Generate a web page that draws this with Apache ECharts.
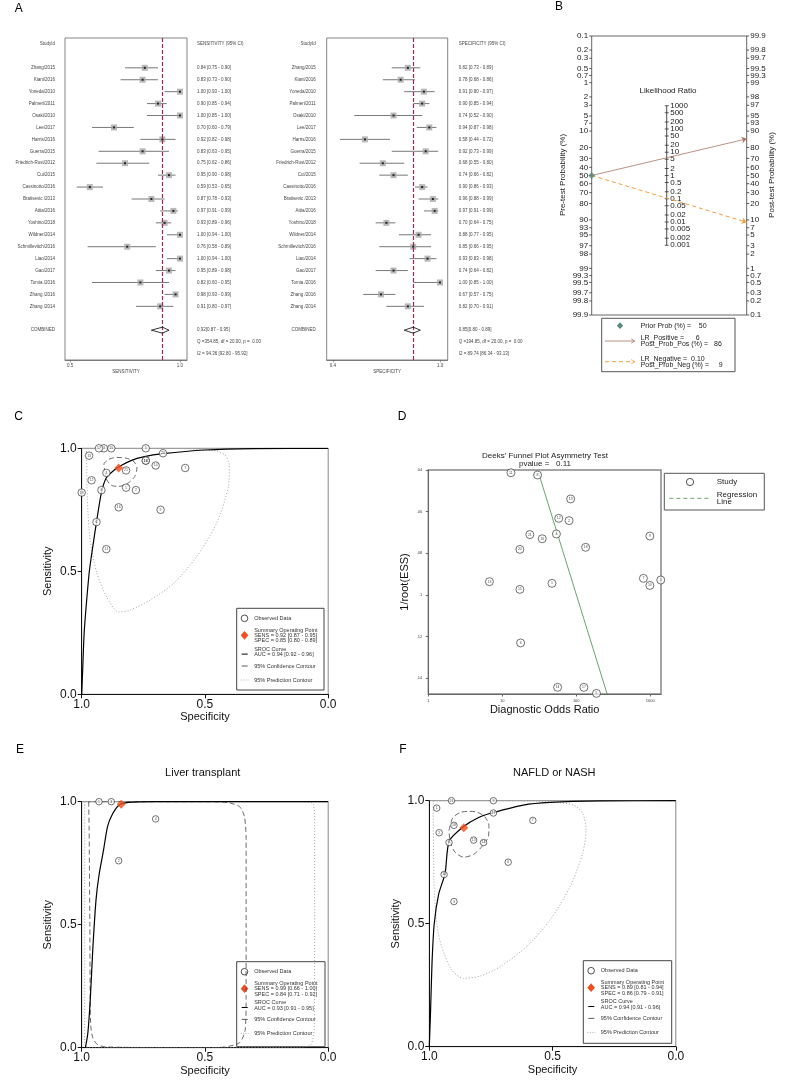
<!DOCTYPE html>
<html>
<head>
<meta charset="utf-8">
<script src="https://cdn.jsdelivr.net/npm/echarts@6/dist/echarts.min.js"></script>
<style>
html, body { margin: 0; padding: 0; background: #fff; }
#chart { width: 800px; height: 1091px; }
</style>
</head>
<body>
<div id="chart"></div>
<script>
var FONT = 'Liberation Sans, Arial, sans-serif';

// ---------- A: forest plots ----------
var studyNames = ['Zhang/2015', 'Kiani/2016', 'Yoneda/2010', 'Palmeri/2011', 'Osaki/2010', 'Lee/2017', 'Harris/2016',
  'Guerra/2015', 'Friedrich-Rust/2012', 'Cui/2015', 'Cassinotto/2016', 'Bratisevic /2013', 'Attia/2016', 'Yoshino/2018',
  'Wildner/2014', 'Schmillevitch/2016', 'Liao/2014', 'Gao/2017', 'Tomia /2016', 'Zhang /2016', 'Zhang /2014'];
var sensEst  = [0.84, 0.83, 1.00, 0.90, 1.00, 0.70, 0.92, 0.83, 0.75, 0.95, 0.59, 0.87, 0.97, 0.93, 1.00, 0.76, 1.00, 0.95, 0.82, 0.98, 0.91];
var sensLow  = [0.75, 0.73, 0.93, 0.85, 0.85, 0.60, 0.82, 0.63, 0.62, 0.90, 0.53, 0.78, 0.91, 0.89, 0.94, 0.58, 0.94, 0.89, 0.60, 0.93, 0.80];
var sensHigh = [0.90, 0.90, 1.00, 0.94, 1.00, 0.79, 0.98, 0.95, 0.86, 0.98, 0.65, 0.93, 0.99, 0.96, 1.00, 0.89, 1.00, 0.98, 0.95, 0.99, 0.97];
var specEst  = [0.82, 0.78, 0.91, 0.90, 0.74, 0.94, 0.58, 0.92, 0.68, 0.74, 0.90, 0.96, 0.97, 0.70, 0.88, 0.85, 0.93, 0.74, 1.00, 0.67, 0.82];
var specLow  = [0.73, 0.68, 0.80, 0.85, 0.52, 0.87, 0.44, 0.73, 0.55, 0.66, 0.86, 0.88, 0.91, 0.64, 0.77, 0.66, 0.83, 0.64, 0.85, 0.57, 0.70];
var specHigh = [0.89, 0.86, 0.97, 0.94, 0.90, 0.98, 0.72, 0.99, 0.80, 0.82, 0.93, 0.99, 0.99, 0.75, 0.95, 0.95, 0.98, 0.82, 1.00, 0.75, 0.91];
var sensPooled = [0.92, 0.87, 0.95];
var specPooled = [0.85, 0.80, 0.89];
var sensHet = ['Q =354.85, df = 20.00, p =  0.00', 'I2 = 94.36 [92.80 - 95.92]'];
var specHet = ['Q =194.85, df = 20.00, p =  0.00', 'I2 = 89.74 [86.34 - 93.13]'];
var sensTicks = [0.5, 1.0];
var specTicks = [0.4, 1.0];

// ---------- B: Fagan nomogram ----------
var priorProb = 50;
var lrPositive = 6, postProbPos = 86;
var lrNegative = 0.10, postProbNeg = 9;
var preTicks = [0.1, 0.2, 0.3, 0.5, 0.7, 1, 2, 3, 5, 7, 10, 20, 30, 40, 50, 60, 70, 80, 90, 93, 95, 97, 98, 99, 99.3, 99.5, 99.7, 99.8, 99.9];
var postTicks = [99.9, 99.8, 99.7, 99.5, 99.3, 99, 98, 97, 95, 93, 90, 80, 70, 60, 50, 40, 30, 20, 10, 7, 5, 3, 2, 1, 0.7, 0.5, 0.3, 0.2, 0.1];
var lrTicks = [1000, 500, 200, 100, 50, 20, 10, 5, 2, 1, 0.5, 0.2, 0.1, 0.05, 0.02, 0.01, 0.005, 0.002, 0.001];

// ---------- C: SROC all studies ----------
var allLabels = [1, 2, 3, 4, 5, 6, 7, 8, 9, 10, 11, 12, 13, 14, 15, 16, 17, 18, 19, 20, 21];
var allSummary = [0.85, 0.92];
var allCurve = [[1.0, 0], [0.996, 0.1], [0.99, 0.25], [0.98, 0.38], [0.969, 0.5], [0.955, 0.6], [0.94, 0.7], [0.92, 0.82],
  [0.9, 0.88], [0.87, 0.91], [0.84, 0.93], [0.8, 0.95], [0.75, 0.965], [0.67, 0.978], [0.5, 0.993], [0.3, 0.999], [0, 1]];
var allConf = [[0.905, 0.9], [0.91, 0.935], [0.89, 0.955], [0.858, 0.963], [0.82, 0.96], [0.79, 0.948], [0.776, 0.92],
  [0.785, 0.885], [0.81, 0.86], [0.85, 0.845], [0.88, 0.85], [0.9, 0.875], [0.905, 0.9]];
var allPred = [[0.98, 1.0], [0.98, 0.993], [0.977, 0.79], [0.966, 0.626], [0.939, 0.495], [0.899, 0.396], [0.851, 0.335],
  [0.804, 0.342], [0.723, 0.383], [0.628, 0.45], [0.534, 0.559], [0.453, 0.695], [0.405, 0.844], [0.401, 0.932],
  [0.419, 0.973], [0.466, 0.99], [0.601, 0.999], [0.804, 1.0], [0.98, 1.0]];
var allStats = ['0.92 [0.87 - 0.95]', '0.85 [0.80 - 0.89]', '0.94 [0.92 - 0.96]'];

// ---------- D: Deeks funnel ----------
var deeksDOR = [13.1, 30, 84, 58, 80, 54, 23.6, 34.7, 134, 17.3, 990, 6.7, 47, 17.3, 810, 990, 1390, 17.7, 56, 127, 188];
var deeksESS = [0.0413, 0.0424, 0.0539, 0.0632, 0.0643, 0.0707, 0.0710, 0.0730, 0.0771, 0.0781, 0.0717, 0.0936, 0.0944,
  0.0973, 0.0920, 0.0954, 0.0928, 0.1230, 0.1443, 0.1443, 0.1472];
var deeksLabels = [11, 8, 19, 12, 2, 4, 21, 16, 18, 20, 9, 13, 1, 15, 7, 10, 3, 6, 14, 17, 5];
var deeksFitDOR = [31, 262];
var deeksFitESS = [0.0415, 0.1475];
var deeksTicksY = [0.04, 0.06, 0.08, 0.1, 0.12, 0.14];
var deeksPvalue = '0.11';

// ---------- E: liver transplant ----------
var liverIdx = [16, 14, 13, 15];
var liverLabels = [1, 3, 4, 2];
var liverSummary = [0.84, 0.99];
var liverCurve = [[0.985, 0], [0.975, 0.06], [0.965, 0.2], [0.955, 0.4], [0.942, 0.6], [0.93, 0.7], [0.912, 0.8],
  [0.895, 0.9], [0.875, 0.95], [0.85, 0.985], [0.81, 0.997], [0.7, 1], [0, 1]];
var liverConf = [[0.972, 1.0], [0.97, 0.9], [0.967, 0.5], [0.964, 0.1], [0.955, 0.04], [0.935, 0.012], [0.9, 0.003],
  [0.5, 0.0], [0.42, 0.003], [0.36, 0.02], [0.337, 0.07], [0.333, 0.2], [0.333, 0.5], [0.333, 0.85], [0.34, 0.94],
  [0.36, 0.98], [0.41, 0.997], [0.5, 1.0], [0.972, 1.0]];
var liverPred = [[0.988, 1.0], [0.988, 0.5], [0.988, 0.02], [0.98, 0.002], [0.5, 0.0], [0.12, 0.002], [0.07, 0.012],
  [0.056, 0.1], [0.055, 0.5], [0.055, 0.9], [0.06, 0.99], [0.1, 1.0], [0.5, 1.0], [0.988, 1.0]];
var liverStats = ['0.99 [0.66 - 1.00]', '0.84 [0.71 - 0.92]', '0.93 [0.91 - 0.95]'];

// ---------- F: NAFLD or NASH ----------
var naflIdx = [12, 2, 4, 9, 6, 11, 3, 7, 0, 1, 8, 5, 10];
var naflLabels = [1, 21, 9, 17, 7, 2, 18, 8, 13, 14, 6, 16, 3];
var naflSummary = [0.86, 0.89];
var naflCurve = [[1.0, 0], [0.995, 0.14], [0.989, 0.34], [0.98, 0.5], [0.962, 0.62], [0.936, 0.705], [0.919, 0.836],
  [0.862, 0.894], [0.8, 0.932], [0.743, 0.951], [0.619, 0.982], [0.51, 0.993], [0.3, 0.999], [0, 1]];
var naflConf = [[0.92, 0.88], [0.905, 0.93], [0.875, 0.952], [0.84, 0.957], [0.805, 0.953], [0.775, 0.935], [0.758, 0.9],
  [0.76, 0.855], [0.785, 0.815], [0.82, 0.782], [0.86, 0.77], [0.895, 0.79], [0.915, 0.83], [0.92, 0.88]];
var naflPred = [[0.984, 1.0], [0.984, 0.996], [0.981, 0.678], [0.97, 0.501], [0.95, 0.407], [0.909, 0.312], [0.862, 0.278],
  [0.794, 0.287], [0.713, 0.325], [0.605, 0.407], [0.51, 0.515], [0.429, 0.65], [0.378, 0.786], [0.364, 0.881],
  [0.378, 0.949], [0.415, 0.982], [0.51, 0.996], [0.713, 1.0], [0.984, 1.0]];
var naflStats = ['0.89 [0.81 - 0.94]', '0.86 [0.79 - 0.91]', '0.94 [0.91 - 0.96]'];

// ================= helpers =================
function logit(p) { return Math.log(p / (1 - p)); }
function ci(e, l, h) { return e.toFixed(2) + ' [' + l.toFixed(2) + ' - ' + h.toFixed(2) + ']'; }
function txt(x, y, s, size, align, color, extra) {
  var o = { type: 'text', x: x, y: y, silent: true,
    style: { text: s, fontSize: size, fontFamily: FONT, fill: color || '#222',
      align: align || 'left', verticalAlign: 'middle', textAlign: align || 'left', textVerticalAlign: 'middle' } };
  if (extra) { for (var k in extra) o[k] = extra[k]; }
  return o;
}

var grids = [], xAxes = [], yAxes = [], series = [], graphics = [];

// ---------- forest ----------
function ciRender(params, api) {
  var a = api.coord([api.value(0), api.value(2)]);
  var b = api.coord([api.value(1), api.value(2)]);
  return { type: 'line', shape: { x1: a[0], y1: a[1], x2: b[0], y2: b[1] }, style: { stroke: '#555', lineWidth: 0.8 } };
}
function diamondRender(params, api) {
  var l = api.coord([api.value(0), api.value(3)]);
  var c = api.coord([api.value(1), api.value(3)]);
  var r = api.coord([api.value(2), api.value(3)]);
  return { type: 'polygon', shape: { points: [[l[0], l[1]], [c[0], c[1] - 3], [r[0], r[1]], [c[0], c[1] + 3]] },
    style: { fill: 'none', stroke: '#000', lineWidth: 0.8 } };
}
function addForest(left, width, xmin, xmax, ticks, name, est, lo, hi, pooled, het, labelMargin) {
  var gi = grids.length;
  grids.push({ left: left, top: 38, width: width, height: 322, show: true, borderColor: '#666', borderWidth: 0.8 });
  var xi = xAxes.length;
  xAxes.push({ gridIndex: gi, type: 'value', min: xmin, max: xmax,
    axisLine: { show: true, lineStyle: { color: '#666', width: 0.8 } },
    axisTick: { show: true, length: 2.5, customValues: ticks, lineStyle: { color: '#666', width: 0.6 } },
    axisLabel: { customValues: ticks, fontSize: 4.5, color: '#444', margin: 3, formatter: function (v) { return v.toFixed(1); } },
    splitLine: { show: false },
    name: name, nameLocation: 'middle', nameGap: 9, nameTextStyle: { fontSize: 4.5, color: '#444' } });
  var leftLabels = ['StudyId', ''].concat(studyNames).concat(['', 'COMBINED', '', '']);
  var rightLabels = [name + ' (95% CI)', ''].concat(est.map(function (v, i) { return ci(v, lo[i], hi[i]); }))
    .concat(['', pooled[0].toFixed(2) + '[' + pooled[1].toFixed(2) + ' - ' + pooled[2].toFixed(2) + ']', het[0], het[1]]);
  var pooledRow = est.length + 3;
  var yi = yAxes.length;
  [[leftLabels, 'left'], [rightLabels, 'right']].forEach(function (d) {
    yAxes.push({ gridIndex: gi, type: 'category', inverse: true, data: d[0], position: d[1],
      axisLine: { show: false }, axisTick: { show: false }, splitLine: { show: false },
      axisLabel: { fontSize: 4.5, color: '#444', margin: labelMargin, interval: 0 } });
  });
  var pts = est.map(function (v, i) { return [v, i + 2]; });
  series.push({ type: 'custom', xAxisIndex: xi, yAxisIndex: yi, silent: true, z: 2, renderItem: ciRender,
    encode: { x: [0, 1], y: 2 }, data: lo.map(function (l, i) { return [l, hi[i], i + 2]; }) });
  series.push({ type: 'scatter', xAxisIndex: xi, yAxisIndex: yi, silent: true, z: 3, symbol: 'rect', symbolSize: 6,
    itemStyle: { color: '#a8a8a8' }, data: pts,
    markLine: { silent: true, symbol: 'none', label: { show: false },
      lineStyle: { color: '#a0284f', type: [4, 2], width: 1.2 }, data: [{ xAxis: pooled[0] }] } });
  series.push({ type: 'scatter', xAxisIndex: xi, yAxisIndex: yi, silent: true, z: 4, symbol: 'rect', symbolSize: 2,
    itemStyle: { color: '#000' }, data: pts });
  series.push({ type: 'custom', xAxisIndex: xi, yAxisIndex: yi, silent: true, z: 5, renderItem: diamondRender,
    encode: { x: [0, 1, 2], y: 3 }, data: [[pooled[1], pooled[0], pooled[2], pooledRow]] });
}
addForest(65, 122, 0.477, 1.032, sensTicks, 'SENSITIVITY', sensEst, sensLow, sensHigh, sensPooled, sensHet, 10);
addForest(326.7, 121, 0.366, 1.043, specTicks, 'SPECIFICITY', specEst, specLow, specHigh, specPooled, specHet, 11);

// ---------- Fagan ----------
(function () {
  var gi = grids.length;
  grids.push({ left: 591.7, top: 36, width: 155, height: 279, show: true, borderColor: '#666', borderWidth: 1 });
  var xi = xAxes.length, yi = yAxes.length;
  var lim = -logit(0.001);
  xAxes.push({ gridIndex: gi, type: 'value', min: 0, max: 1, show: false });
  yAxes.push({ gridIndex: gi, type: 'value', min: -lim, max: lim, inverse: true, show: false });
  var lrX = 0.484;
  function ticks(vals, toY, xPos, side) {
    return { type: 'custom', xAxisIndex: xi, yAxisIndex: yi, silent: true, clip: false, z: 5,
      encode: { x: 0, y: 1 },
      data: vals.map(function (v) { return [xPos, toY(v)]; }),
      renderItem: function (params, api) {
        var p = api.coord([api.value(0), api.value(1)]);
        var s = String(vals[params.dataIndex]);
        var x1, x2, tx, al;
        if (side === 'left') { x1 = p[0] - 2.5; x2 = p[0]; tx = p[0] - 3.5; al = 'right'; }
        else if (side === 'right') { x1 = p[0]; x2 = p[0] + 2.5; tx = p[0] + 3.5; al = 'left'; }
        else { x1 = p[0] - 2; x2 = p[0] + 2; tx = p[0] + 3.5; al = 'left'; }
        return { type: 'group', children: [
          { type: 'line', shape: { x1: x1, y1: p[1], x2: x2, y2: p[1] }, style: { stroke: '#333', lineWidth: 0.8 } },
          { type: 'text', x: tx, y: p[1], style: { text: s, fill: '#222', fontSize: 8, fontFamily: FONT,
            align: al, verticalAlign: 'middle', textAlign: al, textVerticalAlign: 'middle' } }
        ] };
      } };
  }
  series.push(ticks(preTicks, function (v) { return logit(v / 100); }, 0, 'left'));
  series.push(ticks(postTicks, function (v) { return -logit(v / 100); }, 1, 'right'));
  series.push(ticks(lrTicks, function (v) { return -Math.log(v) / 2; }, lrX, 'mid'));
  series.push({ type: 'line', xAxisIndex: xi, yAxisIndex: yi, silent: true, showSymbol: false, z: 4,
    lineStyle: { color: '#333', width: 0.9 },
    data: [[lrX, -Math.log(lrTicks[0]) / 2], [lrX, -Math.log(lrTicks[lrTicks.length - 1]) / 2]] });
  series.push({ type: 'lines', coordinateSystem: 'cartesian2d', xAxisIndex: xi, yAxisIndex: yi, silent: true, z: 6,
    symbol: ['none', 'arrow'], symbolSize: 5,
    lineStyle: { color: '#a87565', width: 0.8, opacity: 1 },
    data: [{ coords: [[0, logit(priorProb / 100)], [1, -logit(postProbPos / 100)]] }] });
  series.push({ type: 'lines', coordinateSystem: 'cartesian2d', xAxisIndex: xi, yAxisIndex: yi, silent: true, z: 6,
    symbol: ['none', 'arrow'], symbolSize: 5,
    lineStyle: { color: '#f0a040', width: 1, type: [4, 3], opacity: 1 },
    data: [{ coords: [[0, logit(priorProb / 100)], [1, -logit(postProbNeg / 100)]] }] });
  series.push({ type: 'scatter', xAxisIndex: xi, yAxisIndex: yi, silent: true, z: 7, clip: false,
    symbol: 'diamond', symbolSize: 7, itemStyle: { color: '#5a8a7a' }, data: [[0, logit(priorProb / 100)]] });

  graphics.push(txt(668, 90.7, 'Likelihood Ratio', 8, 'center'));
  graphics.push(txt(562.7, 175, 'Pre-test Probability (%)', 8, 'center', '#222', { rotation: Math.PI / 2 }));
  graphics.push(txt(772, 175, 'Post-test Probability (%)', 8, 'center', '#222', { rotation: Math.PI / 2 }));
  graphics.push({ type: 'group', x: 601.7, y: 318.3, silent: true, children: [
    { type: 'rect', shape: { x: 0, y: 0, width: 133.3, height: 53.4 }, style: { fill: '#fff', stroke: '#555', lineWidth: 1 } },
    { type: 'polygon', shape: { points: [[18.3, 4], [21.5, 7.4], [18.3, 10.8], [15.1, 7.4]] }, style: { fill: '#5a8a7a' } },
    txt(39, 7.4, 'Prior Prob (%) =    ' + priorProb, 7),
    { type: 'line', shape: { x1: 3.3, y1: 22.7, x2: 33, y2: 22.7 }, style: { stroke: '#a87565', lineWidth: 0.8 } },
    { type: 'polyline', shape: { points: [[29.5, 20.5], [33, 22.7], [29.5, 24.9]] }, style: { stroke: '#a87565', lineWidth: 0.8, fill: 'none' } },
    txt(39, 19.4, 'LR_Positive =      ' + lrPositive, 7),
    txt(39, 26, 'Post_Prob_Pos (%) =   ' + postProbPos, 7),
    { type: 'line', shape: { x1: 3.3, y1: 43.4, x2: 33, y2: 43.4 }, style: { stroke: '#f0a040', lineWidth: 1, lineDash: [4, 3] } },
    { type: 'polyline', shape: { points: [[29.5, 41.2], [33, 43.4], [29.5, 45.6]] }, style: { stroke: '#f0a040', lineWidth: 0.8, fill: 'none' } },
    txt(39, 40.4, 'LR_Negative =  ' + lrNegative.toFixed(2), 7),
    txt(39, 46.4, 'Post_Prob_Neg (%) =     ' + postProbNeg, 7)
  ] });
})();

// ---------- SROC panels ----------
function srocLegend(bx, by, w, h, stats) {
  return { type: 'group', x: bx, y: by, silent: true, children: [
    { type: 'rect', shape: { x: 0, y: 0, width: w, height: h }, style: { fill: '#fff', stroke: '#444', lineWidth: 1 } },
    { type: 'circle', shape: { cx: 7.8, cy: 10, r: 3.3 }, style: { fill: '#fff', stroke: '#222', lineWidth: 0.8 } },
    txt(17.5, 10, 'Observed Data', 5.5, 'left', '#333'),
    { type: 'polygon', shape: { points: [[7.8, 22.6], [11.6, 27], [7.8, 31.4], [4, 27]] }, style: { fill: '#f04e1e' } },
    txt(17.5, 21.7, 'Summary Operating Point', 5.5, 'left', '#333'),
    txt(17.5, 27, 'SENS = ' + stats[0], 5.5, 'left', '#333'),
    txt(17.5, 32.4, 'SPEC = ' + stats[1], 5.5, 'left', '#333'),
    { type: 'line', shape: { x1: 5, y1: 45.8, x2: 11, y2: 45.8 }, style: { stroke: '#000', lineWidth: 1 } },
    txt(17.5, 41, 'SROC Curve', 5.5, 'left', '#333'),
    txt(17.5, 46.4, 'AUC = ' + stats[2], 5.5, 'left', '#333'),
    { type: 'line', shape: { x1: 5, y1: 57.7, x2: 11, y2: 57.7 }, style: { stroke: '#333', lineWidth: 0.8 } },
    txt(17.5, 57.7, '95% Confidence Contour', 5.5, 'left', '#333'),
    { type: 'line', shape: { x1: 4, y1: 71.7, x2: 12, y2: 71.7 }, style: { stroke: '#999', lineWidth: 0.8, lineDash: [1, 1.5] } },
    txt(17.5, 71.7, '95% Prediction Contour', 5.5, 'left', '#333')
  ] };
}
function addSroc(left, top, idx, labels, summary, curve, conf, pred, stats, leg, circleSize) {
  var gi = grids.length;
  grids.push({ left: left, top: top, width: 246.5, height: 246, show: true, borderColor: '#888', borderWidth: 1 });
  var xi = xAxes.length, yi = yAxes.length;
  xAxes.push({ gridIndex: gi, type: 'value', inverse: true, min: 0, max: 1, interval: 0.5,
    axisLine: { show: true, onZero: false, lineStyle: { color: '#111', width: 1 } },
    axisTick: { show: true, length: 4, lineStyle: { color: '#111' } },
    axisLabel: { fontSize: 12, color: '#111', margin: 4, formatter: function (v) { return v.toFixed(1); } },
    splitLine: { show: false },
    name: 'Specificity', nameLocation: 'middle', nameGap: 17.5, nameTextStyle: { fontSize: 11, color: '#111' } });
  yAxes.push({ gridIndex: gi, type: 'value', min: 0, max: 1, interval: 0.5,
    axisLine: { show: true, onZero: false, lineStyle: { color: '#111', width: 1 } },
    axisTick: { show: true, length: 4, lineStyle: { color: '#111' } },
    axisLabel: { fontSize: 12, color: '#111', margin: 5, formatter: function (v) { return v.toFixed(1); } },
    splitLine: { show: false },
    name: 'Sensitivity', nameLocation: 'middle', nameGap: 28, nameTextStyle: { fontSize: 11, color: '#111' } });
  var base = { xAxisIndex: xi, yAxisIndex: yi, silent: true };
  function ln(data, style, z) {
    var s = { type: 'line', showSymbol: false, smooth: 0.25, data: data, lineStyle: style, z: z };
    for (var k in base) s[k] = base[k];
    return s;
  }
  series.push(ln(pred, { color: '#999', width: 0.9, type: [1, 2] }, 2));
  series.push(ln(conf, { color: '#444', width: 0.8, type: [5, 3] }, 3));
  series.push(ln(curve, { color: '#000', width: 1.2 }, 4));
  var pts = idx.map(function (k, j) { return [specEst[k], sensEst[k], labels[j]]; });
  var sc = { type: 'scatter', clip: false, z: 5, symbolSize: circleSize, data: pts,
    itemStyle: { color: '#fff', borderColor: '#222', borderWidth: 0.8 },
    label: { show: true, position: 'inside', fontSize: 3.5, color: '#222', formatter: function (p) { return p.value[2]; } } };
  for (var k in base) sc[k] = base[k];
  series.push(sc);
  var sm = { type: 'scatter', clip: false, z: 6, symbol: 'diamond', symbolSize: 9, itemStyle: { color: '#f04e1e' }, data: [summary] };
  for (var k2 in base) sm[k2] = base[k2];
  series.push(sm);
  graphics.push(srocLegend(leg[0], leg[1], leg[2], leg[3], stats));
}
addSroc(81.7, 448.3, allLabels.map(function (v, i) { return i; }), allLabels, allSummary, allCurve, allConf, allPred,
  allStats, [236.7, 608.3, 87.3, 81.7], 7.5);
addSroc(81.7, 801.7, liverIdx, liverLabels, liverSummary, liverCurve, liverConf, liverPred,
  liverStats, [236.7, 961.7, 88.3, 85], 6.5);
addSroc(429.3, 800.7, naflIdx, naflLabels, naflSummary, naflCurve, naflConf, naflPred,
  naflStats, [583.3, 960.7, 88.4, 82.6], 6.5);

// ---------- Deeks ----------
(function () {
  var gi = grids.length;
  grids.push({ left: 428.3, top: 470, width: 232.7, height: 224, show: true, borderColor: '#888', borderWidth: 1.5 });
  var xi = xAxes.length, yi = yAxes.length;
  xAxes.push({ gridIndex: gi, type: 'log', logBase: 10, min: 1, max: 1400,
    axisLine: { show: true, onZero: false, lineStyle: { color: '#666', width: 1 } },
    axisTick: { show: true, length: 2.5, lineStyle: { color: '#666' } },
    axisLabel: { fontSize: 4, color: '#444', margin: 5, showMaxLabel: false,
      formatter: function (v) { var l = Math.log(v) / Math.LN10; return Math.abs(l - Math.round(l)) < 1e-6 ? String(Math.round(v)) : ''; } },
    splitLine: { show: false }, minorTick: { show: false },
    name: 'Diagnostic Odds Ratio', nameLocation: 'middle', nameGap: 10, nameTextStyle: { fontSize: 11, color: '#111' } });
  yAxes.push({ gridIndex: gi, type: 'value', inverse: true, min: 0.04, max: 0.1475,
    axisLine: { show: true, onZero: false, lineStyle: { color: '#666', width: 1 } },
    axisTick: { show: true, length: 2.5, customValues: deeksTicksY, lineStyle: { color: '#666' } },
    axisLabel: { customValues: deeksTicksY, fontSize: 4, color: '#444', margin: 6,
      formatter: function (v) { return String(+v.toFixed(2)).replace(/^0/, ''); } },
    splitLine: { show: false },
    name: '1/root(ESS)', nameLocation: 'middle', nameGap: 18, nameTextStyle: { fontSize: 11, color: '#111' } });
  series.push({ type: 'line', xAxisIndex: xi, yAxisIndex: yi, silent: true, showSymbol: false, z: 3,
    lineStyle: { color: '#5a9a5a', width: 0.9 },
    data: deeksFitDOR.map(function (d, i) { return [d, deeksFitESS[i]]; }) });
  series.push({ type: 'scatter', xAxisIndex: xi, yAxisIndex: yi, silent: true, clip: false, z: 5, symbolSize: 8,
    itemStyle: { color: '#fff', borderColor: '#222', borderWidth: 0.8 },
    label: { show: true, position: 'inside', fontSize: 3.5, color: '#222', formatter: function (p) { return p.value[2]; } },
    data: deeksDOR.map(function (d, i) { return [d, deeksESS[i], deeksLabels[i]]; }) });
  graphics.push(txt(545, 455.7, "Deeks' Funnel Plot Asymmetry Test", 8, 'center'));
  graphics.push(txt(545, 463.3, 'pvalue =   ' + deeksPvalue, 8, 'center'));
  graphics.push({ type: 'group', x: 664.3, y: 473.3, silent: true, children: [
    { type: 'rect', shape: { x: 0, y: 0, width: 100, height: 36.7 }, style: { fill: '#fff', stroke: '#555', lineWidth: 1 } },
    { type: 'circle', shape: { cx: 25.7, cy: 8.7, r: 3.6 }, style: { fill: '#fff', stroke: '#222', lineWidth: 0.8 } },
    txt(52.4, 8.7, 'Study', 8),
    { type: 'line', shape: { x1: 5, y1: 25, x2: 45.7, y2: 25 }, style: { stroke: '#5a9a5a', lineWidth: 0.9, lineDash: [4, 3] } },
    txt(52.4, 21, 'Regression', 8),
    txt(52.4, 28.4, 'Line', 8)
  ] });
})();

// ---------- panel letters and titles ----------
graphics.push(txt(18.8, 8.3, 'A', 12, 'center', '#000'));
graphics.push(txt(559, 7, 'B', 12, 'center', '#000'));
graphics.push(txt(18.7, 416.7, 'C', 12, 'center', '#000'));
graphics.push(txt(402, 416.7, 'D', 12, 'center', '#000'));
graphics.push(txt(20, 750, 'E', 12, 'center', '#000'));
graphics.push(txt(403, 750, 'F', 12, 'center', '#000'));
graphics.push(txt(202.7, 773.3, 'Liver transplant', 11, 'center', '#111'));
graphics.push(txt(554.3, 773.3, 'NAFLD or NASH', 11, 'center', '#111'));

var chart = echarts.init(document.getElementById('chart'));
chart.setOption({
  animation: false,
  backgroundColor: '#fff',
  textStyle: { fontFamily: FONT },
  grid: grids,
  xAxis: xAxes,
  yAxis: yAxes,
  series: series,
  graphic: graphics
});
</script>
</body>
</html>
